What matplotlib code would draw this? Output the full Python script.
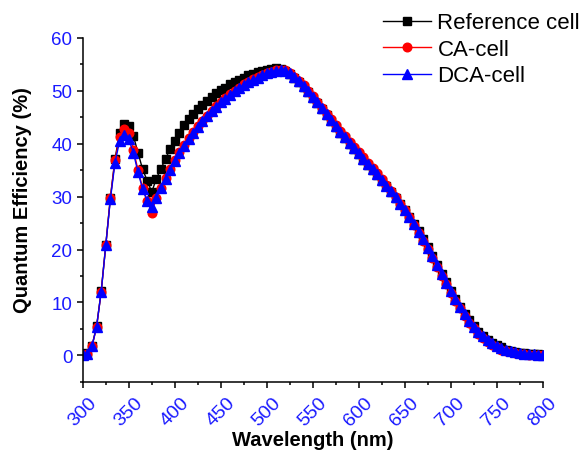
import matplotlib
matplotlib.use("Agg")
import matplotlib.pyplot as plt
from matplotlib.ticker import MultipleLocator

plt.rcParams['font.family'] = ['Liberation Sans', 'DejaVu Sans']

# wavelength grid (nm)
wavelength = [
    300, 305, 310, 315, 320, 325, 330, 335, 340, 345,
    350, 355, 360, 365, 370, 375, 380, 385, 390, 395,
    400, 405, 410, 415, 420, 425, 430, 435, 440, 445,
    450, 455, 460, 465, 470, 475, 480, 485, 490, 495,
    500, 505, 510, 515, 520, 525, 530, 535, 540, 545,
    550, 555, 560, 565, 570, 575, 580, 585, 590, 595,
    600, 605, 610, 615, 620, 625, 630, 635, 640, 645,
    650, 655, 660, 665, 670, 675, 680, 685, 690, 695,
    700, 705, 710, 715, 720, 725, 730, 735, 740, 745,
    750, 755, 760, 765, 770, 775, 780, 785, 790, 795,
    800,
]

ref_cell = [
    0.0, 0.4, 1.8, 5.5, 12.1, 20.9, 29.8, 37.1, 42.0, 43.8,
    43.3, 41.5, 38.3, 35.2, 33.0, 30.9, 33.4, 35.3, 37.2, 39.0,
    40.6, 42.1, 43.5, 44.6, 45.6, 46.5, 47.4, 48.1, 48.8, 49.5,
    50.1, 50.6, 51.2, 51.7, 52.1, 52.5, 52.9, 53.2, 53.5, 53.8,
    54.0, 54.2, 54.3, 54.2, 53.8, 53.2, 52.5, 51.6, 50.7, 49.7,
    48.7, 47.6, 46.5, 45.4, 44.3, 43.2, 42.1, 41.0, 40.0, 39.0,
    38.0, 37.0, 36.0, 35.0, 34.0, 33.0, 32.0, 30.9, 29.8, 28.6,
    27.4, 26.2, 24.9, 23.5, 22.0, 20.5, 18.8, 17.1, 15.4, 13.8,
    12.2, 10.7, 9.2, 7.9, 6.6, 5.5, 4.5, 3.7, 3.0, 2.4,
    1.9, 1.5, 1.1, 0.9, 0.7, 0.5, 0.4, 0.3, 0.25, 0.2,
    0.15,
]

ca_cell = [
    0.0, 0.3, 1.7, 5.4, 12.0, 20.8, 29.8, 37.0, 41.2, 42.7,
    42.1, 38.9, 35.0, 31.7, 29.2, 27.0, 29.8, 31.7, 33.6, 35.3,
    36.9, 38.4, 39.8, 41.0, 42.2, 43.3, 44.3, 45.3, 46.2, 47.1,
    47.9, 48.6, 49.3, 50.0, 50.6, 51.2, 51.7, 52.2, 52.6, 53.0,
    53.3, 53.6, 53.9, 54.0, 53.9, 53.4, 52.7, 51.9, 51.0, 50.0,
    49.0, 47.9, 46.8, 45.7, 44.6, 43.5, 42.4, 41.4, 40.4, 39.4,
    38.4, 37.4, 36.4, 35.4, 34.4, 33.3, 32.2, 31.1, 29.9, 28.7,
    27.4, 26.1, 24.7, 23.2, 21.7, 20.1, 18.4, 16.7, 15.0, 13.4,
    11.8, 10.3, 8.9, 7.5, 6.2, 5.1, 4.1, 3.3, 2.6, 2.0,
    1.5, 1.1, 0.8, 0.6, 0.4, 0.3, 0.2, 0.15, 0.1, 0.05,
    0.0,
]

dca_cell = [
    0.0, 0.3, 1.7, 5.4, 12.0, 20.8, 29.5, 36.4, 40.5, 41.7,
    40.8, 38.3, 34.6, 31.5, 29.1, 28.0, 29.8, 31.6, 33.4, 35.1,
    36.7, 38.2, 39.6, 40.8, 42.0, 43.1, 44.2, 45.2, 46.1, 47.0,
    47.8, 48.5, 49.2, 49.9, 50.5, 51.1, 51.6, 52.1, 52.5, 52.9,
    53.3, 53.6, 53.8, 53.9, 53.8, 53.3, 52.6, 51.8, 50.9, 49.9,
    48.9, 47.8, 46.7, 45.6, 44.5, 43.4, 42.3, 41.2, 40.2, 39.2,
    38.2, 37.2, 36.2, 35.2, 34.2, 33.2, 32.1, 31.0, 29.9, 28.7,
    27.5, 26.2, 24.9, 23.4, 21.9, 20.3, 18.7, 17.0, 15.3, 13.7,
    12.1, 10.6, 9.2, 7.8, 6.5, 5.4, 4.4, 3.6, 2.9, 2.3,
    1.8, 1.4, 1.0, 0.8, 0.6, 0.45, 0.35, 0.25, 0.2, 0.15,
    0.1,
]

fig = plt.figure(figsize=(5.83, 4.52), dpi=100)
ax = fig.add_axes([0.142, 0.153, 0.789, 0.761])

ax.plot(wavelength, ref_cell, color='black', marker='s', markersize=6.2,
        linewidth=1, label='Reference cell')
ax.plot(wavelength, ca_cell, color='red', marker='o', markersize=6.2,
        linewidth=1, label='CA-cell')
ax.plot(wavelength, dca_cell, color='blue', marker='^', markersize=6.6,
        linewidth=1, label='DCA-cell')

ax.set_xlim(300, 800)
ax.set_ylim(-5, 60)
ax.xaxis.set_major_locator(MultipleLocator(50))
ax.xaxis.set_minor_locator(MultipleLocator(25))
ax.yaxis.set_major_locator(MultipleLocator(10))
ax.yaxis.set_minor_locator(MultipleLocator(5))
ax.set_yticks([0, 10, 20, 30, 40, 50, 60])

for side in ['top', 'right']:
    ax.spines[side].set_visible(False)
for side in ['left', 'bottom']:
    ax.spines[side].set_linewidth(1.1)

ax.tick_params(which='major', direction='out', length=4.5, width=1.1,
               labelcolor='#1a1aff')
ax.tick_params(which='minor', direction='out', length=2.5, width=1.1)
ax.tick_params(axis='y', pad=3, labelsize=13.5)
ax.tick_params(axis='x', pad=4, labelsize=14)
for lbl in ax.get_xticklabels():
    lbl.set_rotation(45)
    lbl.set_ha('center')
    lbl.set_va('top')

ax.set_xlabel('Wavelength (nm)', fontsize=14.5, fontweight='bold', labelpad=1)
ax.set_ylabel('Quantum Efficiency (%)', fontsize=14.5, fontweight='bold')
ax.yaxis.set_label_coords(-0.11, 0.53)

fig.legend(loc='upper left', bbox_to_anchor=(0.634, 1.0), frameon=False,
           fontsize=16, handlelength=2.15, handletextpad=0.3,
           labelspacing=0.25, borderaxespad=0.2)

plt.savefig('out.png', dpi=100)
